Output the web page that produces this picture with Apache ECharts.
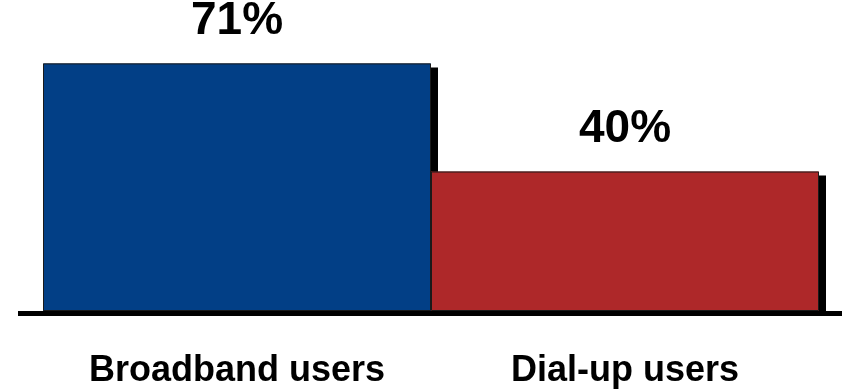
<!DOCTYPE html>
<html>
<head>
<meta charset="utf-8">
<script src="https://cdn.jsdelivr.net/npm/echarts@6/dist/echarts.min.js"></script>
<style>
  html, body { margin: 0; padding: 0; background: #fff; }
  #main { width: 842px; height: 390px; }
</style>
</head>
<body>
<div id="main"></div>
<script>
// data
var categories = ['Broadband users', 'Dial-up users'];
var shares = [71, 40];
var barColors = ['#023f86', '#ae2829'];

var myChart = echarts.init(document.getElementById('main'));

var option = {
  animation: false,
  grid: { left: 43, right: 23, top: 32, bottom: 79 },
  xAxis: {
    type: 'category',
    data: categories,
    axisLine: { show: false },
    axisTick: { show: false },
    axisLabel: {
      margin: 42,
      color: '#000',
      fontSize: 36,
      fontWeight: 'bold',
      fontFamily: 'Liberation Sans, Arial, sans-serif'
    }
  },
  yAxis: {
    type: 'value',
    min: 0,
    max: 80,
    show: false,
    splitLine: { show: false }
  },
  series: [{
    type: 'bar',
    barCategoryGap: 0,
    data: shares.map(function (v, i) {
      return { value: v, itemStyle: { color: barColors[i] } };
    }),
    itemStyle: {
      // hard drop shadow, no blur
      shadowColor: '#000',
      shadowBlur: 0,
      shadowOffsetX: 7,
      shadowOffsetY: 4
    },
    label: {
      show: true,
      position: 'top',
      distance: 19,
      formatter: '{c}%',
      color: '#000',
      fontSize: 46,
      fontWeight: 'bold',
      fontFamily: 'Liberation Sans, Arial, sans-serif'
    }
  }, {
    // thin outline drawn on top, kept apart so the shadow doesn't double it
    type: 'bar',
    barGap: '-100%',
    barCategoryGap: 0,
    silent: true,
    data: shares,
    itemStyle: {
      color: 'transparent',
      borderColor: '#1a1a1a',
      borderWidth: 1
    }
  }],
  // baseline runs past the plot on both sides
  graphic: [{
    type: 'line',
    z: 100,
    shape: { x1: 18, y1: 313.5, x2: 842, y2: 313.5 },
    style: { stroke: '#000', lineWidth: 5 }
  }]
};

myChart.setOption(option);
</script>
</body>
</html>
